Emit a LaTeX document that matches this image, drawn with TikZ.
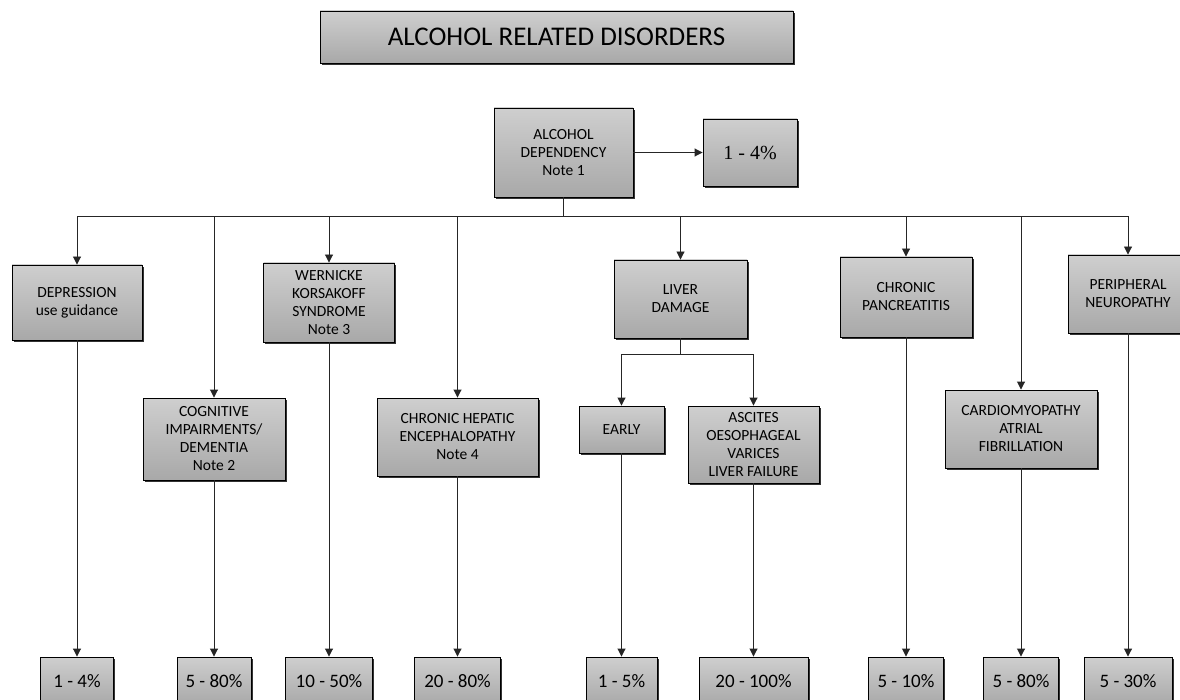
\documentclass[tikz,border=0pt]{standalone}
\usepackage{fontspec}
\setmainfont{Carlito}
\newfontfamily\serifpct{Liberation Serif}
\usetikzlibrary{arrows.meta,shadows}
\begin{document}
\begin{tikzpicture}[x=1pt,y=-1pt,
  box/.style={draw=black, line width=0.9pt, top color=gray!38, bottom color=gray!68,
    drop shadow={shadow xshift=1.8pt, shadow yshift=-1.8pt, fill=black!80, opacity=1},
    align=center, inner sep=2pt, text=black, font=\fontsize{15.5}{18}\selectfont},
  sz/.style 2 args={minimum width=#1, minimum height=#2},
  pct/.style={box, font=\fontsize{19}{21}\selectfont},
  link/.style={draw=black!85, line width=0.9pt},
  arr/.style={link, -{Triangle[length=8pt,width=8pt]}}]
\clip (0,0) rectangle (1180,700);
\fill[white] (0,0) rectangle (1180,700);

% title
\node[box, sz={473pt}{52pt}, font=\fontsize{27}{30}\selectfont] (title) at (556.5,37) {ALCOHOL RELATED DISORDERS};

% top
\node[box, sz={139pt}{89pt}] (dep) at (563.5,152.5) {ALCOHOL\\DEPENDENCY\\Note 1};
\node[box, sz={94pt}{67pt}, font=\serifpct\fontsize{20}{22}\selectfont] (toppct) at (750,152.5) {1 - 4\%};

% second level
\node[box, sz={130pt}{75pt}] (depr) at (77,302.5) {DEPRESSION\\use guidance};
\node[box, sz={142pt}{82pt}] (cogn) at (214,439) {COGNITIVE\\IMPAIRMENTS/\\DEMENTIA\\Note 2};
\node[box, sz={131pt}{79pt}] (wern) at (329,302.5) {WERNICKE\\KORSAKOFF\\SYNDROME\\Note 3};
\node[box, sz={161pt}{78pt}] (hepa) at (457.5,437) {CHRONIC HEPATIC\\ENCEPHALOPATHY\\Note 4};
\node[box, sz={133pt}{78pt}] (liver) at (680.5,299) {LIVER\\DAMAGE};
\node[box, sz={85pt}{47pt}] (early) at (621.5,429.5) {EARLY};
\node[box, sz={131pt}{77pt}] (asci) at (753.5,444.5) {ASCITES\\OESOPHAGEAL\\VARICES\\LIVER FAILURE};
\node[box, sz={132pt}{80pt}] (panc) at (906,297) {CHRONIC\\PANCREATITIS};
\node[box, sz={152pt}{78pt}] (card) at (1021,429) {CARDIOMYOPATHY\\ATRIAL\\FIBRILLATION};
\node[box, sz={120pt}{78pt}] (peri) at (1128,294) {PERIPHERAL\\NEUROPATHY};

% bottom row
\node[pct, sz={73pt}{48pt}] (r1) at (77,681) {1 - 4\%};
\node[pct, sz={74pt}{48pt}] (r2) at (214,681) {5 - 80\%};
\node[pct, sz={87pt}{48pt}] (r3) at (329,681) {10 - 50\%};
\node[pct, sz={86pt}{48pt}] (r4) at (457.5,681) {20 - 80\%};
\node[pct, sz={71pt}{48pt}] (r5) at (621.5,681) {1 - 5\%};
\node[pct, sz={109pt}{48pt}] (r6) at (753.5,681) {20 - 100\%};
\node[pct, sz={75pt}{48pt}] (r7) at (906,681) {5 - 10\%};
\node[pct, sz={75pt}{48pt}] (r8) at (1021,681) {5 - 80\%};
\node[pct, sz={88pt}{48pt}] (r9) at (1128,681) {5 - 30\%};

% connectors
\draw[arr] (dep.east) -- (toppct.west);
\coordinate (bus) at (563.5,216);
\draw[link] (dep.south) -- (bus);
\foreach \n in {depr,cogn,wern,hepa,liver,panc,card,peri}
  \draw[arr] (bus) -| (\n.north);
\coordinate (lj) at (680.5,354);
\draw[link] (liver.south) -- (lj);
\draw[arr] (lj) -| (early.north);
\draw[arr] (lj) -| (asci.north);

\draw[arr] (depr.south) -- (r1.north);
\draw[arr] (cogn.south) -- (r2.north);
\draw[arr] (wern.south) -- (r3.north);
\draw[arr] (hepa.south) -- (r4.north);
\draw[arr] (early.south) -- (r5.north);
\draw[arr] (asci.south) -- (r6.north);
\draw[arr] (panc.south) -- (r7.north);
\draw[arr] (card.south) -- (r8.north);
\draw[arr] (peri.south) -- (r9.north);
\end{tikzpicture}
\end{document}
